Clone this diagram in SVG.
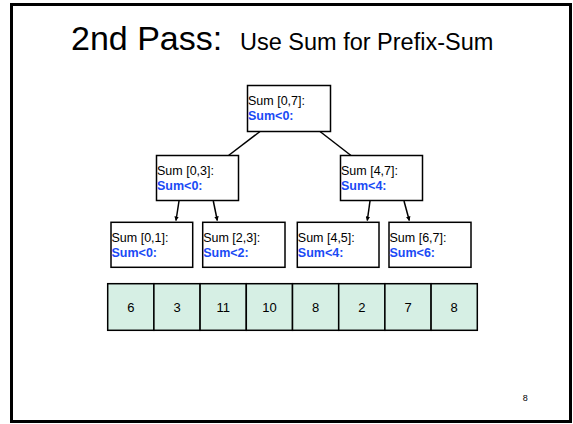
<svg xmlns="http://www.w3.org/2000/svg" width="573" height="424" viewBox="0 0 573 424">
  <style>
    .frame { fill: #ffffff; stroke: #000000; stroke-width: 3; }
    .box { fill: #ffffff; stroke: #000000; stroke-width: 1.5; }
    .cell { fill: #d6efe4; stroke: #000000; stroke-width: 1.5; }
    .lbl { font-family: "Liberation Sans", Arial, sans-serif; font-size: 12.5px; fill: #000000; }
    .sum { font-family: "Liberation Sans", Arial, sans-serif; font-size: 12.5px; font-weight: bold; fill: #1a4af5; }
    .num { font-family: "Liberation Sans", Arial, sans-serif; font-size: 13px; fill: #000000; text-anchor: middle; }
    .edge { stroke: #000000; stroke-width: 1.5; fill: none; }
  </style>
  <defs>
    <marker id="arrow" viewBox="0 0 10 10" refX="9" refY="5" markerWidth="4.5" markerHeight="4.5" orient="auto" markerUnits="userSpaceOnUse">
      <path d="M0,0 L10,5 L0,10 z" fill="#000000"/>
    </marker>
  </defs>

  <rect class="frame" x="11.5" y="4.5" width="559" height="417"/>

  <!-- title -->
  <text x="71" y="50" font-family="Liberation Sans, Arial, sans-serif" font-size="34px" fill="#000">2nd Pass:</text>
  <text x="240" y="50" font-family="Liberation Sans, Arial, sans-serif" font-size="23.5px" fill="#000">Use Sum for Prefix-Sum</text>

  <!-- connectors -->
  <g id="connectors">
    <line class="edge" x1="260" y1="131.5" x2="228.5" y2="155.5"/>
    <line class="edge" x1="320" y1="131.5" x2="351" y2="155.5"/>
    <line class="edge" x1="179" y1="201" x2="176" y2="220.5" marker-end="url(#arrow)"/>
    <line class="edge" x1="213.3" y1="201" x2="217.3" y2="220.5" marker-end="url(#arrow)"/>
    <line class="edge" x1="370" y1="201" x2="367.3" y2="220.5" marker-end="url(#arrow)"/>
    <line class="edge" x1="404" y1="201" x2="409.3" y2="220.5" marker-end="url(#arrow)"/>
  </g>

  <!-- tree nodes -->
  <g id="n07">
    <rect class="box" x="247.5" y="85.5" width="83" height="46"/>
    <text class="lbl" x="248" y="105">Sum [0,7]:</text>
    <text class="sum" x="248" y="120">Sum&lt;0:</text>
  </g>
  <g id="n03">
    <rect class="box" x="156.5" y="155.5" width="82" height="45"/>
    <text class="lbl" x="157" y="175">Sum [0,3]:</text>
    <text class="sum" x="157" y="190">Sum&lt;0:</text>
  </g>
  <g id="n47">
    <rect class="box" x="340.5" y="155.5" width="82" height="45"/>
    <text class="lbl" x="341" y="175">Sum [4,7]:</text>
    <text class="sum" x="341" y="190">Sum&lt;4:</text>
  </g>
  <g id="n01">
    <rect class="box" x="111" y="222.3" width="81.7" height="45"/>
    <text class="lbl" x="111.5" y="242">Sum [0,1]:</text>
    <text class="sum" x="111.5" y="257">Sum&lt;0:</text>
  </g>
  <g id="n23">
    <rect class="box" x="202.7" y="222.3" width="82.3" height="45"/>
    <text class="lbl" x="203.2" y="242">Sum [2,3]:</text>
    <text class="sum" x="203.2" y="257">Sum&lt;2:</text>
  </g>
  <g id="n45">
    <rect class="box" x="297.3" y="222.3" width="81.7" height="45"/>
    <text class="lbl" x="297.8" y="242">Sum [4,5]:</text>
    <text class="sum" x="297.8" y="257">Sum&lt;4:</text>
  </g>
  <g id="n67">
    <rect class="box" x="389" y="222.3" width="82" height="45"/>
    <text class="lbl" x="389.5" y="242">Sum [6,7]:</text>
    <text class="sum" x="389.5" y="257">Sum&lt;6:</text>
  </g>

  <!-- input array -->
  <g id="array">
    <rect class="cell" x="107.7" y="283.7" width="46.2" height="46.6"/>
    <rect class="cell" x="153.9" y="283.7" width="46.2" height="46.6"/>
    <rect class="cell" x="200.1" y="283.7" width="46.2" height="46.6"/>
    <rect class="cell" x="246.3" y="283.7" width="46.2" height="46.6"/>
    <rect class="cell" x="292.5" y="283.7" width="46.2" height="46.6"/>
    <rect class="cell" x="338.7" y="283.7" width="46.2" height="46.6"/>
    <rect class="cell" x="384.9" y="283.7" width="46.2" height="46.6"/>
    <rect class="cell" x="431.1" y="283.7" width="46.2" height="46.6"/>
    <text class="num" x="130.8" y="311.5">6</text>
    <text class="num" x="177" y="311.5">3</text>
    <text class="num" x="223.2" y="311.5">11</text>
    <text class="num" x="269.4" y="311.5">10</text>
    <text class="num" x="315.6" y="311.5">8</text>
    <text class="num" x="361.8" y="311.5">2</text>
    <text class="num" x="408" y="311.5">7</text>
    <text class="num" x="454.2" y="311.5">8</text>
  </g>

  <text x="525.3" y="401" font-family="Liberation Sans, Arial, sans-serif" font-size="9px" fill="#000" text-anchor="middle">8</text>
</svg>
